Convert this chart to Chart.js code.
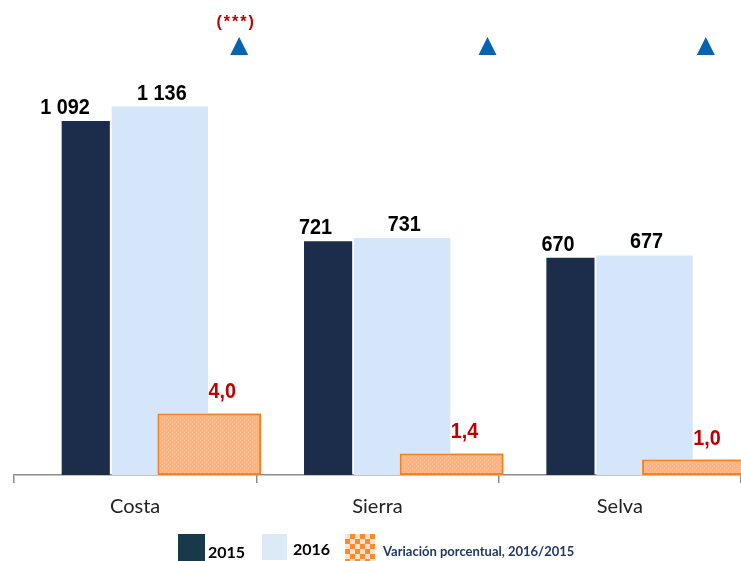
<!DOCTYPE html>
<html>
<head>
<meta charset="utf-8">
<script src="https://cdn.jsdelivr.net/npm/chart.js@4.4.1/dist/chart.umd.min.js"></script>
<style>
  html,body{margin:0;padding:0;background:#fff;}
  #wrap{position:relative;width:741px;height:561px;overflow:hidden;}
  #c{position:absolute;left:0;top:0;}
  .sw{position:absolute;}
  .lg{position:absolute;font-family:Lato,"Liberation Sans",sans-serif;font-weight:bold;white-space:nowrap;}
</style>
</head>
<body>
<div id="wrap">
  <canvas id="c" width="741" height="561"></canvas>
  <div class="sw" style="left:178px;top:534px;width:27px;height:27px;background:#183a48"></div>
  <div class="lg" id="lg0" style="left:208px;top:543px;font-size:16px;line-height:18px;color:#000"></div>
  <div class="sw" style="left:262px;top:534px;width:25px;height:26px;background:#dce9f7"></div>
  <div class="lg" id="lg1" style="left:293px;top:540px;font-size:16px;line-height:18px;color:#000"></div>
  <div class="sw" style="left:345px;top:534px;width:30px;height:27px;background:repeating-conic-gradient(#ff8a2e 0 25%, #ffe3cc 0 50%) 0 0/10px 10px"></div>
  <div class="lg" id="lg2" style="left:383px;top:543px;font-size:13px;line-height:16px;color:#1f3864"></div>
</div>
<script>
// data
const regions = ['Costa', 'Sierra', 'Selva'];
const pob2015 = [1092, 721, 670];
const pob2016 = [1136, 731, 677];
const variacion = [4.0, 1.4, 1.0];
const signif = ['(***)', '', ''];
const legendLabels = ['2015', '2016', 'Variación porcentual, 2016/2015'];

// where the blue up-arrows sit, relative to each category centre
const markerDx = [104, 110, 86];

legendLabels.forEach((t,i)=>{ document.getElementById('lg'+i).textContent = t; });

function fmtInt(v){ return String(v).replace(/\B(?=(\d{3})+(?!\d))/g, ' '); }
function fmtPct(v){ return v.toFixed(1).replace('.', ','); }

function orangePattern(ctx){
  const p = document.createElement('canvas');
  p.width = 4; p.height = 4;
  const g = p.getContext('2d');
  g.fillStyle = '#ffb380'; g.fillRect(0,0,4,4);
  g.fillStyle = '#ffc29a'; g.fillRect(0,0,1,1); g.fillRect(2,2,1,1);
  return ctx.createPattern(p, 'repeat');
}

function label(ctx, text, x, y, align, color){
  ctx.save();
  ctx.translate(x, y);
  ctx.scale(0.9, 1);
  ctx.font = 'bold 22px "Liberation Sans", Arial, sans-serif';
  ctx.fillStyle = color;
  ctx.textAlign = align;
  ctx.textBaseline = 'alphabetic';
  ctx.fillText(text, 0, 0);
  ctx.restore();
}

const overlay = {
  id: 'overlay',
  afterDatasetsDraw(chart){
    const ctx = chart.ctx, a = chart.chartArea;
    // orange bars have to sit on top of the 2016 bars
    ctx.save();
    ctx.beginPath();
    ctx.rect(a.left, a.top, a.right - a.left, a.bottom - a.top);
    ctx.clip();
    chart.getDatasetMeta(6).data.forEach(el => el.draw(ctx));
    ctx.restore();

    chart.getDatasetMeta(1).data.forEach((el,i)=> label(ctx, fmtInt(pob2015[i]), el.x + 4, el.y - 7, 'right', '#000'));
    chart.getDatasetMeta(4).data.forEach((el,i)=> label(ctx, fmtInt(pob2016[i]), el.x + 2, el.y - 7, 'center', '#000'));
    chart.getDatasetMeta(6).data.forEach((el,i)=> label(ctx, fmtPct(variacion[i]), el.x + 13, el.y - 15, 'center', '#c00000'));

    // significance arrows
    const xs = chart.scales.x;
    regions.forEach((r,i)=>{
      const cx = xs.getPixelForValue(i) + markerDx[i];
      ctx.save();
      ctx.fillStyle = '#0563b3';
      ctx.beginPath();
      ctx.moveTo(cx, 37);
      ctx.lineTo(cx + 9, 55);
      ctx.lineTo(cx - 9, 55);
      ctx.closePath();
      ctx.fill();
      if(signif[i]){
        ctx.font = 'bold 16px "Liberation Sans", Arial, sans-serif';
        ctx.fillStyle = '#c00000';
        ctx.textAlign = 'center';
        ctx.letterSpacing = '2px';
        ctx.fillText(signif[i], cx - 3, 27);
      }
      ctx.restore();
    });
  }
};

const canvas = document.getElementById('c');
const ctx = canvas.getContext('2d');
const spacer = () => ({label: '', data: regions.map(() => null), backgroundColor: 'transparent', yAxisID: 'y'});

new Chart(ctx, {
  type: 'bar',
  data: {
    labels: regions,
    datasets: [
      spacer(),
      {label: legendLabels[0], data: pob2015, backgroundColor: '#1b2d4a', barPercentage: 1.95, yAxisID: 'y'},
      spacer(),
      spacer(),
      {label: legendLabels[1], data: pob2016, backgroundColor: '#d5e5fa', barPercentage: 3.9, yAxisID: 'y'},
      spacer(),
      {label: legendLabels[2], data: variacion, backgroundColor: orangePattern(ctx), borderColor: '#f5821f',
       borderWidth: 2, borderSkipped: false, barPercentage: 4.2, yAxisID: 'y2'}
    ]
  },
  options: {
    responsive: false,
    animation: false,
    datasets: {bar: {categoryPercentage: 0.7135}},
    layout: {padding: {top: 21, left: 14, right: 0, bottom: 30}},
    plugins: {legend: {display: false}, tooltip: {enabled: false}},
    scales: {
      x: {
        grid: {display: true, drawOnChartArea: false, drawTicks: true, tickLength: 8, color: '#8c8c8c', lineWidth: 1.5, offset: true},
        border: {display: true, color: '#8c8c8c', width: 1.5},
        ticks: {color: '#222', padding: 12, font: {family: 'Lato', size: 20}}
      },
      y: {display: false, min: 0, max: 1400},
      y2: {display: false, min: 0, max: 29.5, position: 'right'}
    }
  },
  plugins: [overlay]
});
</script>
</body>
</html>
